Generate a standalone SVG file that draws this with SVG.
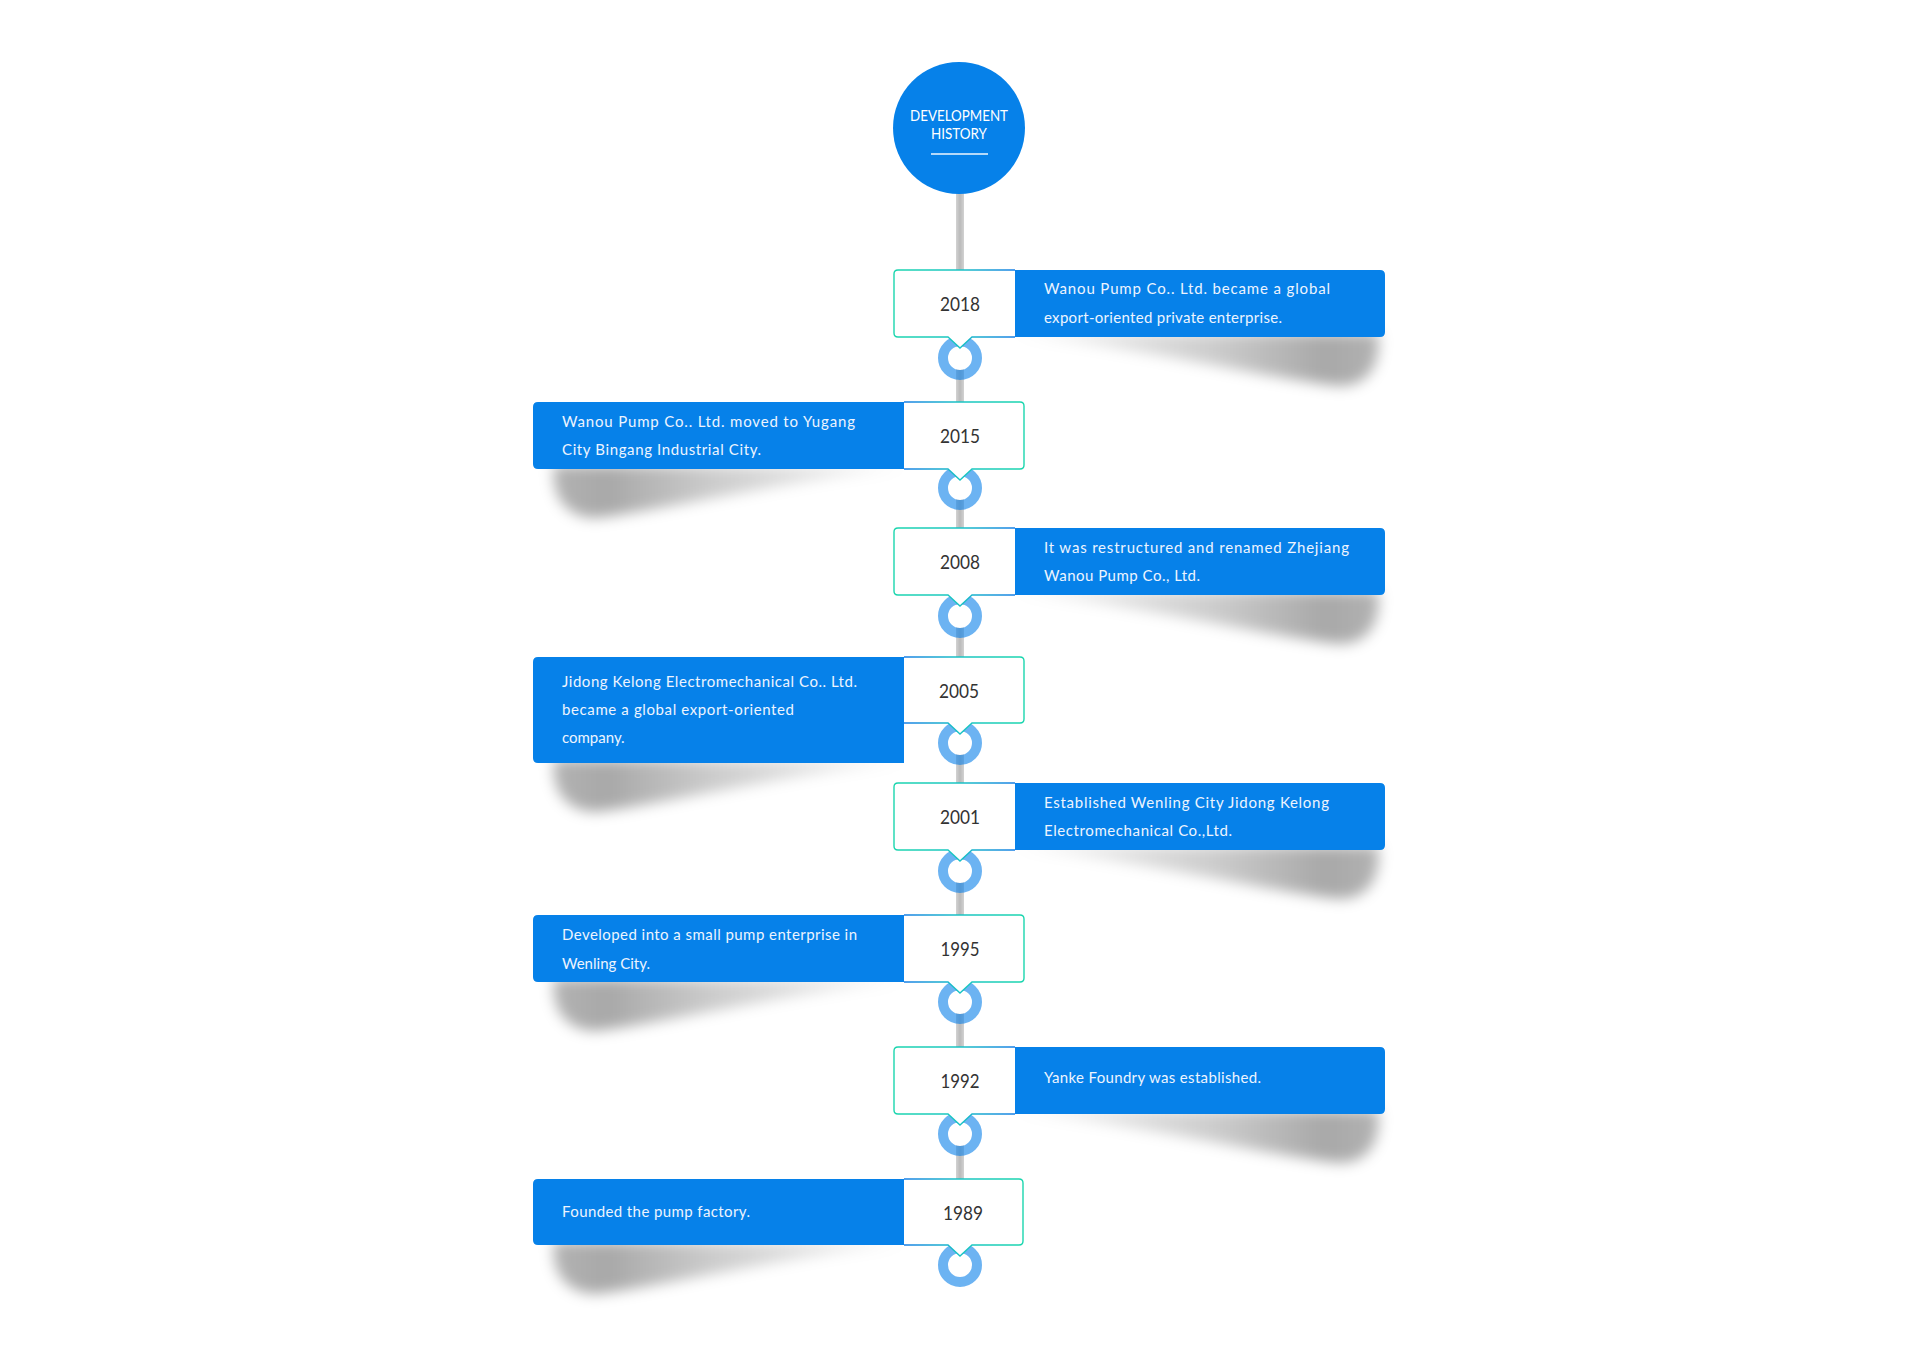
<svg xmlns="http://www.w3.org/2000/svg" width="1920" height="1350" viewBox="0 0 1920 1350">
<defs>
<style>
.blue{fill:#0681e9}
.yb{fill:#ffffff}
.txt{font-family:Lato,"Open Sans","Liberation Sans",sans-serif;font-size:15px;fill:#edf4ff}
.yr{font-family:Lato,"Open Sans","Liberation Sans",sans-serif;font-size:20px;fill:#333333;text-anchor:middle}
.ttl{font-family:Lato,"Open Sans","Liberation Sans",sans-serif;font-size:15px;fill:#ffffff;text-anchor:middle}
.ring{fill:none;stroke:#0a80ea;stroke-opacity:0.6;stroke-width:10}
.inner{fill:#ffffff}
.shR{fill:url(#gShR);filter:url(#blur)}
.shL{fill:url(#gShL);filter:url(#blur)}
.bdR{fill:none;stroke:url(#gBdR);stroke-width:1.4}
.bdL{fill:none;stroke:url(#gBdL);stroke-width:1.4}
</style>
<linearGradient id="gLine" x1="0" y1="0" x2="1" y2="0">
<stop offset="0" stop-color="#d2d2d2"/>
<stop offset="0.5" stop-color="#bababa"/>
<stop offset="1" stop-color="#d2d2d2"/>
</linearGradient>
<linearGradient id="gShR" gradientUnits="userSpaceOnUse" x1="1015" y1="0" x2="1380" y2="0">
<stop offset="0" stop-color="#000" stop-opacity="0.02"/>
<stop offset="0.55" stop-color="#000" stop-opacity="0.2"/>
<stop offset="0.85" stop-color="#000" stop-opacity="0.34"/>
<stop offset="1" stop-color="#000" stop-opacity="0.3"/>
</linearGradient>
<linearGradient id="gShL" gradientUnits="userSpaceOnUse" x1="904" y1="0" x2="555" y2="0">
<stop offset="0" stop-color="#000" stop-opacity="0.02"/>
<stop offset="0.55" stop-color="#000" stop-opacity="0.2"/>
<stop offset="0.85" stop-color="#000" stop-opacity="0.34"/>
<stop offset="1" stop-color="#000" stop-opacity="0.3"/>
</linearGradient>
<linearGradient id="gBdR" gradientUnits="userSpaceOnUse" x1="894" y1="0" x2="1015" y2="0">
<stop offset="0" stop-color="#1bd6ae"/>
<stop offset="0.55" stop-color="#19c3c4"/>
<stop offset="1" stop-color="#1a7fe6"/>
</linearGradient>
<linearGradient id="gBdL" gradientUnits="userSpaceOnUse" x1="1024" y1="0" x2="904" y2="0">
<stop offset="0" stop-color="#1bd6ae"/>
<stop offset="0.55" stop-color="#19c3c4"/>
<stop offset="1" stop-color="#1a7fe6"/>
</linearGradient>
<filter id="blur" x="-10%" y="-60%" width="120%" height="220%">
<feGaussianBlur stdDeviation="7"/>
</filter>
</defs>
<rect width="1920" height="1350" fill="#ffffff"/>

<g id="connectors">
<rect x="956" y="190" width="8" height="989" fill="url(#gLine)"/>
<circle class="inner" cx="960" cy="358" r="12"/><circle class="ring" cx="960" cy="358" r="17"/>
<circle class="inner" cx="960" cy="488" r="12"/><circle class="ring" cx="960" cy="488" r="17"/>
<circle class="inner" cx="960" cy="616" r="12"/><circle class="ring" cx="960" cy="616" r="17"/>
<circle class="inner" cx="960" cy="743" r="12"/><circle class="ring" cx="960" cy="743" r="17"/>
<circle class="inner" cx="960" cy="871" r="12"/><circle class="ring" cx="960" cy="871" r="17"/>
<circle class="inner" cx="960" cy="1002" r="12"/><circle class="ring" cx="960" cy="1002" r="17"/>
<circle class="inner" cx="960" cy="1134" r="12"/><circle class="ring" cx="960" cy="1134" r="17"/>
<circle class="inner" cx="960" cy="1265" r="12"/><circle class="ring" cx="960" cy="1265" r="17"/>
</g>

<g id="title">
<circle cx="959" cy="128" r="66" class="blue"/>
<text class="ttl" x="959" y="121" textLength="98" lengthAdjust="spacingAndGlyphs">DEVELOPMENT</text>
<text class="ttl" x="959" y="139" textLength="56" lengthAdjust="spacingAndGlyphs">HISTORY</text>
<rect x="931" y="153.3" width="57" height="1.4" fill="#ffffff"/>
</g>

<g id="n2018">
<path class="shR" d="M1015 333 L1378 333 C1382 365 1368 386 1340 386 C1270 379 1150 349 1015 335 Z"/>
<path class="blue" d="M1015 270 H1380 Q1385 270 1385 275 V332 Q1385 337 1380 337 H1015 Z"/>
<path class="yb" d="M898 270 H1015 V337 H972 L960 348 L948 337 H898 Q894 337 894 333 V274 Q894 270 898 270 Z"/>
<path class="bdR" d="M1015 270 H898 Q894 270 894 274 V333 Q894 337 898 337 H948 L960 348 L972 337 H1015"/>
<text class="yr" x="960" y="311" textLength="40" lengthAdjust="spacingAndGlyphs">2018</text>
<text class="txt" x="1044" y="294" textLength="286">Wanou Pump Co.. Ltd. became a global</text>
<text class="txt" x="1044" y="322.5" textLength="238">export-oriented private enterprise.</text>
</g>

<g id="n2015">
<path class="shL" d="M904 467 L554 465 C550 495 565 517 595 518 C660 511 780 481 904 469 Z"/>
<path class="blue" d="M904 402 H538 Q533 402 533 407 V464 Q533 469 538 469 H904 Z"/>
<path class="yb" d="M904 402 H1020 Q1024 402 1024 406 V465 Q1024 469 1020 469 H972 L960 480 L948 469 H904 Z"/>
<path class="bdL" d="M904 402 H1020 Q1024 402 1024 406 V465 Q1024 469 1020 469 H972 L960 480 L948 469 H904"/>
<text class="yr" x="960" y="443" textLength="40" lengthAdjust="spacingAndGlyphs">2015</text>
<text class="txt" x="562" y="426.5" textLength="293">Wanou Pump Co.. Ltd. moved to Yugang</text>
<text class="txt" x="562" y="455" textLength="199">City Bingang Industrial City.</text>
</g>

<g id="n2008">
<path class="shR" d="M1015 591 L1378 591 C1382 623 1368 644 1340 644 C1270 637 1150 607 1015 593 Z"/>
<path class="blue" d="M1015 528 H1380 Q1385 528 1385 533 V590 Q1385 595 1380 595 H1015 Z"/>
<path class="yb" d="M898 528 H1015 V595 H972 L960 606 L948 595 H898 Q894 595 894 591 V532 Q894 528 898 528 Z"/>
<path class="bdR" d="M1015 528 H898 Q894 528 894 532 V591 Q894 595 898 595 H948 L960 606 L972 595 H1015"/>
<text class="yr" x="960" y="569" textLength="40" lengthAdjust="spacingAndGlyphs">2008</text>
<text class="txt" x="1044" y="552.5" textLength="305">It was restructured and renamed Zhejiang</text>
<text class="txt" x="1044" y="581" textLength="156">Wanou Pump Co., Ltd.</text>
</g>

<g id="n2005">
<path class="shL" d="M904 761 L554 759 C550 789 565 811 595 812 C660 805 780 775 904 763 Z"/>
<path class="blue" d="M904 657 H538 Q533 657 533 662 V758 Q533 763 538 763 H904 Z"/>
<path class="yb" d="M904 657 H1020 Q1024 657 1024 661 V719 Q1024 723 1020 723 H972 L960 734 L948 723 H904 Z"/>
<path class="bdL" d="M904 657 H1020 Q1024 657 1024 661 V719 Q1024 723 1020 723 H972 L960 734 L948 723 H904"/>
<text class="yr" x="959" y="697.5" textLength="40" lengthAdjust="spacingAndGlyphs">2005</text>
<text class="txt" x="562" y="687" textLength="295">Jidong Kelong Electromechanical Co.. Ltd.</text>
<text class="txt" x="562" y="715" textLength="232">became a global export-oriented</text>
<text class="txt" x="562" y="743">company.</text>
</g>

<g id="n2001">
<path class="shR" d="M1015 846 L1378 846 C1382 878 1368 899 1340 899 C1270 892 1150 862 1015 848 Z"/>
<path class="blue" d="M1015 783 H1380 Q1385 783 1385 788 V845 Q1385 850 1380 850 H1015 Z"/>
<path class="yb" d="M898 783 H1015 V850 H972 L960 861 L948 850 H898 Q894 850 894 846 V787 Q894 783 898 783 Z"/>
<path class="bdR" d="M1015 783 H898 Q894 783 894 787 V846 Q894 850 898 850 H948 L960 861 L972 850 H1015"/>
<text class="yr" x="960" y="824" textLength="40" lengthAdjust="spacingAndGlyphs">2001</text>
<text class="txt" x="1044" y="807.5" textLength="285">Established Wenling City Jidong Kelong</text>
<text class="txt" x="1044" y="836" textLength="188">Electromechanical Co.,Ltd.</text>
</g>

<g id="n1995">
<path class="shL" d="M904 980 L554 978 C550 1008 565 1030 595 1031 C660 1024 780 994 904 982 Z"/>
<path class="blue" d="M904 915 H538 Q533 915 533 920 V977 Q533 982 538 982 H904 Z"/>
<path class="yb" d="M904 915 H1020 Q1024 915 1024 919 V978 Q1024 982 1020 982 H972 L960 993 L948 982 H904 Z"/>
<path class="bdL" d="M904 915 H1020 Q1024 915 1024 919 V978 Q1024 982 1020 982 H972 L960 993 L948 982 H904"/>
<text class="yr" x="960" y="956" textLength="39" lengthAdjust="spacingAndGlyphs">1995</text>
<text class="txt" x="562" y="940" textLength="295">Developed into a small pump enterprise in</text>
<text class="txt" x="562" y="968.5" textLength="88">Wenling City.</text>
</g>

<g id="n1992">
<path class="shR" d="M1015 1110 L1378 1110 C1382 1142 1368 1163 1340 1163 C1270 1156 1150 1126 1015 1112 Z"/>
<path class="blue" d="M1015 1047 H1380 Q1385 1047 1385 1052 V1109 Q1385 1114 1380 1114 H1015 Z"/>
<path class="yb" d="M898 1047 H1015 V1114 H972 L960 1125 L948 1114 H898 Q894 1114 894 1110 V1051 Q894 1047 898 1047 Z"/>
<path class="bdR" d="M1015 1047 H898 Q894 1047 894 1051 V1110 Q894 1114 898 1114 H948 L960 1125 L972 1114 H1015"/>
<text class="yr" x="960" y="1088" textLength="39" lengthAdjust="spacingAndGlyphs">1992</text>
<text class="txt" x="1044" y="1083" textLength="217">Yanke Foundry was established.</text>
</g>

<g id="n1989">
<path class="shL" d="M904 1243 L554 1241 C550 1271 565 1293 595 1294 C660 1287 780 1257 904 1245 Z"/>
<path class="blue" d="M904 1179 H538 Q533 1179 533 1184 V1240 Q533 1245 538 1245 H904 Z"/>
<path class="yb" d="M904 1179 H1019 Q1023 1179 1023 1183 V1241 Q1023 1245 1019 1245 H972 L960 1256 L948 1245 H904 Z"/>
<path class="bdL" d="M904 1179 H1019 Q1023 1179 1023 1183 V1241 Q1023 1245 1019 1245 H972 L960 1256 L948 1245 H904"/>
<text class="yr" x="963" y="1220" textLength="40" lengthAdjust="spacingAndGlyphs">1989</text>
<text class="txt" x="562" y="1216.5" textLength="188">Founded the pump factory.</text>
</g>
</svg>
